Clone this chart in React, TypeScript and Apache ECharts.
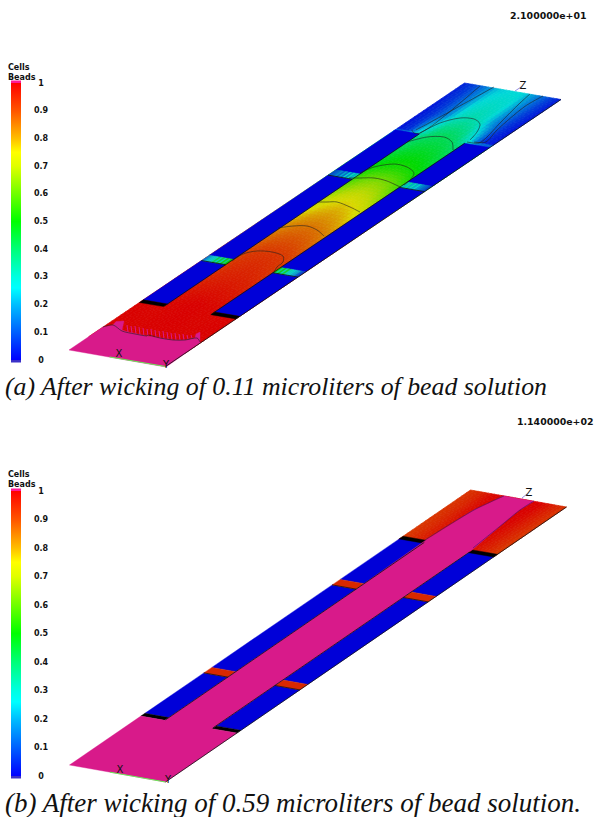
import React, { useEffect, useRef } from "react";
import * as echarts from "echarts";

// colour scale of the bars
const scaleValues = [0, 0.1, 0.2, 0.26, 0.3, 0.4, 0.5, 0.6, 0.7, 0.75, 0.8, 0.9, 1];
const scaleColors = [[0,0,255],[0,96,255],[0,190,255],[0,255,255],[0,255,225],[0,255,120],[0,255,0],[112,255,0],[224,255,0],[255,255,0],[255,190,0],[255,85,0],[255,0,0]];
const tickValues = [0, 0.1, 0.2, 0.3, 0.4, 0.5, 0.6, 0.7, 0.8, 0.9, 1];

// plate corners on the page: near-left, near-right, far-left
const plateA = [[69, 350], [165.5, 366.5], [464.5, 83]];
const plateB = [[69.5, 765], [165.5, 782], [470.5, 490]];

// volume-fraction field: rows are along the plate, columns across it
const fieldU = [0, 0.12, 0.25, 0.37, 0.5, 0.62, 0.74, 0.88, 1];
const fieldVA = [0.05, 0.2, 0.3, 0.39, 0.487, 0.575, 0.66, 0.71, 0.81, 0.83, 0.895, 1];
const fieldA = [
  [1,1,1,1,1,1,1,1,1],
  [0.995,0.995,0.99,0.995,1,0.995,0.99,0.995,0.995],
  [0.95,0.95,0.945,0.955,0.96,0.955,0.945,0.95,0.95],
  [0.9,0.9,0.905,0.925,0.93,0.925,0.905,0.9,0.9],
  [0.82,0.82,0.82,0.85,0.86,0.85,0.82,0.82,0.82],
  [0.7,0.7,0.7,0.75,0.77,0.75,0.7,0.7,0.7],
  [0.56,0.56,0.56,0.62,0.64,0.62,0.56,0.56,0.56],
  [0.49,0.49,0.49,0.52,0.53,0.52,0.49,0.49,0.49],
  [0.38,0.38,0.38,0.42,0.43,0.42,0.38,0.38,0.38],
  [0.02,0.06,0.3,0.4,0.42,0.4,0.3,0.05,0.02],
  [0.02,0.06,0.15,0.3,0.33,0.3,0.17,0.07,0.02],
  [0.04,0.08,0.16,0.24,0.26,0.26,0.18,0.09,0.03],
];
const fieldVB = [0.82, 1];
const fieldB = [
  [0.92,0.94,0.97,1,1,1,0.98,0.95,0.92],
  [0.93,0.95,0.99,1,1,1,1,0.96,0.93],
];

// bar slices, read across the bar
const barLeftNear = [0.15,0.2,0.24,0.25,0.3,0.42,0.3,0.45,0.3,0.48,0.35,0.5];
const barRightNear = [0.5,0.35,0.48,0.3,0.45,0.3,0.28,0.25,0.22,0.2,0.12,0.08];
const barLeftFar = [0.08,0.1,0.12,0.16,0.1,0.2,0.12,0.25,0.15,0.3,0.2,0.32];
const barRightFar = [0.35,0.22,0.33,0.2,0.3,0.2,0.25,0.18,0.15,0.12,0.1,0.06];

// plate regions in plate units [across, along]
const stripsCommon = [
  [[0,0.188],[0.25,0.188],[0.25,0.335],[0,0.335]],
  [[0,0.355],[0.25,0.355],[0.25,0.655],[0,0.655]],
  [[0,0.675],[0.25,0.675],[0.25,0.825],[0,0.825]],
  [[0.74,0.188],[1,0.188],[1,0.335],[0.74,0.335]],
  [[0.74,0.355],[1,0.355],[1,0.655],[0.74,0.655]],
  [[0.74,0.675],[1,0.675],[1,0.82],[0.74,0.82]],
];
const blackBarsNear = [
  [[0,0.178],[0.25,0.178],[0.25,0.188],[0,0.188]],
  [[0.74,0.178],[1,0.178],[1,0.188],[0.74,0.188]],
];
const blackBarsFar = [
  [[0,0.822],[0.25,0.822],[0.25,0.832],[0,0.832]],
  [[0.74,0.818],[1,0.818],[1,0.828],[0.74,0.828]],
];
const redBarsB = [
  [[0,0.335],[0.25,0.335],[0.25,0.355],[0,0.355]],
  [[0.74,0.335],[1,0.335],[1,0.355],[0.74,0.355]],
  [[0,0.655],[0.25,0.655],[0.25,0.675],[0,0.675]],
  [[0.74,0.655],[1,0.655],[1,0.675],[0.74,0.675]],
];
const pinkB = [[0,0],[1,0],[1,0.178],[0.74,0.178],[0.74,0.655],[0.735,0.83],[0.673,0.922],[0.648,0.967],[0.66,1],[0.347,1],[0.31,0.97],[0.269,0.944],[0.235,0.832],[0.25,0.655],[0.25,0.178],[0,0.178]];
const edgeLines = [
  [[0.25,0.18],[0.25,0.825]],
  [[0.74,0.18],[0.74,0.82]],
  [[0,0.335],[0.25,0.335]],
  [[0,0.655],[0.25,0.655]],
  [[0.74,0.335],[1,0.335]],
  [[0.74,0.655],[1,0.655]],
  [[1,0],[1,1]],
];
const greenEdge = [[0.42,0],[1,0]];

// page-space outlines of panel (a)
const pinkFrontA = [[69,350],[103,327],[113,325],[116,321.5],[124,321],[122,330],[128,332],[147,336],[160,338],[173,340],[185,340],[195,338],[196,334],[200,332],[200,343],[166,367]];
const hatchA = [[127,325,332],[131,326,333],[135,326,334],[139,327,335],[143,328,336],[147,329,336],[151,329,337],[155,330,338],[159,331,338],[163,331,339],[167,332,339],[171,333,340],[175,333,340],[179,334,340],[183,334,340],[187,335,339],[191,335,338]];
const contoursA = [
  [[103,327],[113,325],[122,331],[135,334],[147,336],[148,335],[160,338],[173,340],[185,340],[197,338],[200,342]],
  [[232,261],[243,254],[257,251],[272,252],[283,256],[283,262],[277,267],[274,272]],
  [[278,228],[293,226],[307,226],[317,230],[324,236]],
  [[317,202],[327,202],[337,202],[350,207],[360,212]],
  [[349,178],[359,178],[374,178],[387,181],[400,187]],
  [[360,173],[374,167],[394,164],[407,167],[414,173],[410,180],[404,185]],
  [[407,142],[427,137],[444,137],[452,142],[453,150]],
  [[420,133],[440,123],[460,118],[474,119],[480,124],[477,132],[470,140]],
  [[412,130],[414,133],[420,133],[437,122],[480,86]],
  [[416,130],[440,117],[494,87]],
  [[467,142],[479,143],[487,137],[500,123],[520,103],[530,94]],
  [[474,142],[486,142],[497,130],[524,107],[543,96]],
];
const contoursB = [
  [[425,540],[474,510],[504,496]],
  [[473,548],[504,523],[520,510],[534,501]],
];
const zLineA = [[515,91],[521,87]];
const zLineB = [[522,498],[527,494]];

const captionA = "(a) After wicking of 0.11 microliters of bead solution";
const captionB = "(b) After wicking of 0.59 microliters of bead solution.";
const timeA = "2.100000e+01";
const timeB = "1.140000e+02";

const BLUE = "#0000d8";
const PINK = "#d81a8a";
const BAR_RED = "#d82800";
const SHADE = 0.85;

function scaleRgb(v: number, shade = 1): number[] {
  const x = Math.max(0, Math.min(1, v));
  let i = 0;
  while (i < scaleValues.length - 2 && x > scaleValues[i + 1]) i++;
  const t = (x - scaleValues[i]) / (scaleValues[i + 1] - scaleValues[i]);
  return scaleColors[i].map((c, k) => Math.round((c + (scaleColors[i + 1][k] - c) * t) * shade));
}
const css = (c: number[]) => `rgb(${c[0]},${c[1]},${c[2]})`;
const mapper = (p: number[][]) => (pt: number[]) => [
  p[0][0] + pt[0] * (p[1][0] - p[0][0]) + pt[1] * (p[2][0] - p[0][0]),
  p[0][1] + pt[0] * (p[1][1] - p[0][1]) + pt[1] * (p[2][1] - p[0][1]),
];

// one scalar-field series: each table cell is painted with bilinear shading
function fieldSeries(plate: number[][], rows: number[], table: number[][]) {
  const map = mapper(plate);
  const cells: number[][] = [];
  for (let j = 0; j < rows.length - 1; j++) for (let i = 0; i < fieldU.length - 1; i++) cells.push([i, j]);
  return {
    type: "custom", coordinateSystem: "cartesian2d", xAxisIndex: 0, yAxisIndex: 0, clip: false, silent: true, z: 1,
    data: cells,
    renderItem: (_p: any, api: any) => {
      const i = api.value(0), j = api.value(1);
      const u0 = fieldU[i], u1 = fieldU[i + 1], v0 = rows[j], v1 = rows[j + 1];
      const nu = Math.ceil((u1 - u0) / 0.04), nv = Math.max(1, Math.ceil((v1 - v0) / 0.012));
      const children: any[] = [];
      for (let a = 0; a < nu; a++) for (let b = 0; b < nv; b++) {
        const s = (a + 0.5) / nu, t = (b + 0.5) / nv;
        const val = (1 - t) * ((1 - s) * table[j][i] + s * table[j][i + 1]) + t * ((1 - s) * table[j + 1][i] + s * table[j + 1][i + 1]);
        const ua = u0 + (u1 - u0) * a / nu, ub = u0 + (u1 - u0) * (a + 1) / nu;
        const va = v0 + (v1 - v0) * b / nv, vb = v0 + (v1 - v0) * (b + 1) / nv;
        const pts = [[ua, va], [ub, va], [ub, vb], [ua, vb]].map((q) => api.coord(map(q)));
        const col = css(scaleRgb(val, SHADE));
        children.push({ type: "polygon", shape: { points: pts }, style: { fill: col, stroke: col, lineWidth: 0.7 } });
      }
      return { type: "group", children };
    },
  };
}

function polySeries(polys: number[][][], fill: string, z: number, map?: (p: number[]) => number[]) {
  return {
    type: "custom", coordinateSystem: "cartesian2d", xAxisIndex: 0, yAxisIndex: 0, clip: false, silent: true, z,
    data: polys.map((_, k) => [k]),
    renderItem: (_p: any, api: any) => ({
      type: "polygon",
      shape: { points: polys[api.value(0)].map((q) => api.coord(map ? map(q) : q)) },
      style: { fill, stroke: fill, lineWidth: 0.4 },
    }),
  };
}

function lineSeries(lines: number[][][], stroke: string, width: number, z: number, map?: (p: number[]) => number[], smooth = 0) {
  return {
    type: "custom", coordinateSystem: "cartesian2d", xAxisIndex: 0, yAxisIndex: 0, clip: false, silent: true, z,
    data: lines.map((_, k) => [k]),
    renderItem: (_p: any, api: any) => ({
      type: "polyline",
      shape: { points: lines[api.value(0)].map((q) => api.coord(map ? map(q) : q)), smooth },
      style: { fill: "none", stroke, lineWidth: width },
    }),
  };
}

function sliceSeries(plate: number[][], slices: number[], u0: number, u1: number, v0: number, v1: number) {
  const map = mapper(plate);
  const du = (u1 - u0) / slices.length;
  return {
    type: "custom", coordinateSystem: "cartesian2d", xAxisIndex: 0, yAxisIndex: 0, clip: false, silent: true, z: 3,
    data: slices.map((v, k) => [k, v]),
    renderItem: (_p: any, api: any) => {
      const k = api.value(0);
      const col = css(scaleRgb(api.value(1), SHADE));
      const ua = u0 + k * du, ub = ua + du;
      return {
        type: "polygon",
        shape: { points: [[ua, v0], [ub, v0], [ub, v1], [ua, v1]].map((q) => api.coord(map(q))) },
        style: { fill: col, stroke: col, lineWidth: 0.3 },
      };
    },
  };
}

function barSeries(index: number) {
  return {
    type: "custom", coordinateSystem: "cartesian2d", xAxisIndex: index, yAxisIndex: index, clip: false, silent: true, z: 5,
    data: [[0, 1]],
    renderItem: (_p: any, api: any) => {
      const a = api.coord([0, 1]), b = api.coord([1, 0]);
      const stops = scaleValues.map((v, k) => ({ offset: 1 - v, color: css(scaleColors[k]) })).reverse();
      return {
        type: "group",
        children: [
          { type: "rect", shape: { x: a[0], y: a[1] - 2.5, width: b[0] - a[0], height: 3 }, style: { fill: "#ff1a96" } },
          { type: "rect", shape: { x: a[0], y: b[1] - 0.5, width: b[0] - a[0], height: 3 }, style: { fill: "#3a30c8" } },
          { type: "rect", shape: { x: a[0], y: a[1], width: b[0] - a[0], height: b[1] - a[1] }, style: { fill: new echarts.graphic.LinearGradient(0, 0, 0, 1, stops) } },
        ],
      };
    },
  };
}

const label = (x: number, y: number, text: string, font: string, align = "left", fill = "#111") => ({
  type: "text", x, y, silent: true, z: 20,
  style: { text, font, fill, textAlign: align, textVerticalAlign: "middle" },
});

export default function App() {
  const ref = useRef<HTMLDivElement>(null);
  useEffect(() => {
    const chart = echarts.init(ref.current!, undefined, { renderer: "svg" });
    const mA = mapper(plateA), mB = mapper(plateB);
    const hidden = { show: false };
    const cbarY = (gridIndex: number) => ({
      type: "value", gridIndex, min: 0, max: 1, interval: 0.1, position: "right",
      axisLine: hidden, splitLine: hidden,
      axisTick: { show: true, length: 7, lineStyle: { color: "#555", width: 1 } },
      axisLabel: { show: true, margin: 20, align: "center", color: "#111", fontFamily: "DejaVu Sans", fontWeight: "bold", fontSize: 8,
        formatter: (v: number) => String(tickValues[Math.round(v * 10)]) },
    });
    chart.setOption({
      animation: false,
      backgroundColor: "#ffffff",
      grid: [
        { left: 0, top: 0, width: 597, height: 817 },
        { left: 11, top: 83, width: 10, height: 277 },
        { left: 11, top: 491, width: 10, height: 285 },
      ],
      xAxis: [
        { type: "value", gridIndex: 0, min: 0, max: 597, show: false },
        { type: "value", gridIndex: 1, min: 0, max: 1, show: false },
        { type: "value", gridIndex: 2, min: 0, max: 1, show: false },
      ],
      yAxis: [
        { type: "value", gridIndex: 0, min: 0, max: 817, inverse: true, show: false },
        cbarY(1),
        cbarY(2),
      ],
      series: [
        barSeries(1),
        barSeries(2),
        fieldSeries(plateA, fieldVA, fieldA),
        polySeries(stripsCommon, BLUE, 2, mA),
        polySeries(blackBarsNear, "#000000", 3, mA),
        sliceSeries(plateA, barLeftNear, 0, 0.25, 0.335, 0.355),
        sliceSeries(plateA, barRightNear, 0.74, 1, 0.335, 0.355),
        sliceSeries(plateA, barLeftFar, 0, 0.25, 0.655, 0.675),
        sliceSeries(plateA, barRightFar, 0.74, 1, 0.655, 0.675),
        polySeries([pinkFrontA], PINK, 3),
        lineSeries(hatchA.map((h) => [[h[0], h[1]], [h[0] + 1, h[2]]]), PINK, 1, 3),
        lineSeries(edgeLines, "#101010", 0.8, 4, mA),
        lineSeries([greenEdge], "#66ee55", 1, 4, mA),
        lineSeries(contoursA, "#202020", 0.6, 4, undefined, 0.3),
        lineSeries([zLineA, zLineB], "#7a70e0", 0.8, 4),

        fieldSeries(plateB, fieldVB, fieldB),
        polySeries(stripsCommon, BLUE, 2, mB),
        polySeries(redBarsB, BAR_RED, 2, mB),
        polySeries(blackBarsNear, "#000000", 3, mB),
        polySeries(blackBarsFar, "#000000", 3, mB),
        polySeries([pinkB], PINK, 3, mB),
        lineSeries(edgeLines, "#101010", 0.8, 4, mB),
        lineSeries([greenEdge], "#66ee55", 1, 4, mB),
        lineSeries(contoursB, "#40106a", 0.6, 4, undefined, 0.3),
      ],
      graphic: {
        elements: [
          label(510, 15, timeA, "bold 9.4px 'DejaVu Sans'"),
          label(517, 421, timeB, "bold 9.4px 'DejaVu Sans'"),
          label(8, 67, "Cells", "bold 8px 'DejaVu Sans'"),
          label(8, 77, "Beads", "bold 8px 'DejaVu Sans'"),
          label(8, 474, "Cells", "bold 8px 'DejaVu Sans'"),
          label(8, 484, "Beads", "bold 8px 'DejaVu Sans'"),
          label(5, 386, captionA, "italic 25.8px 'Liberation Serif'"),
          label(5, 803, captionB, "italic 27px 'Liberation Serif'"),
          label(119, 353, "X", "10px 'DejaVu Sans'", "center"),
          label(166, 364, "Y", "10px 'DejaVu Sans'", "center"),
          label(523, 85, "Z", "10px 'DejaVu Sans'", "center"),
          label(120, 769, "X", "10px 'DejaVu Sans'", "center"),
          label(168, 779, "Y", "10px 'DejaVu Sans'", "center"),
          label(529, 492, "Z", "10px 'DejaVu Sans'", "center"),
        ],
      },
    });
    return () => chart.dispose();
  }, []);
  return <div ref={ref} style={{ position: "absolute", left: 0, top: 0, width: 597, height: 817 }} />;
}
